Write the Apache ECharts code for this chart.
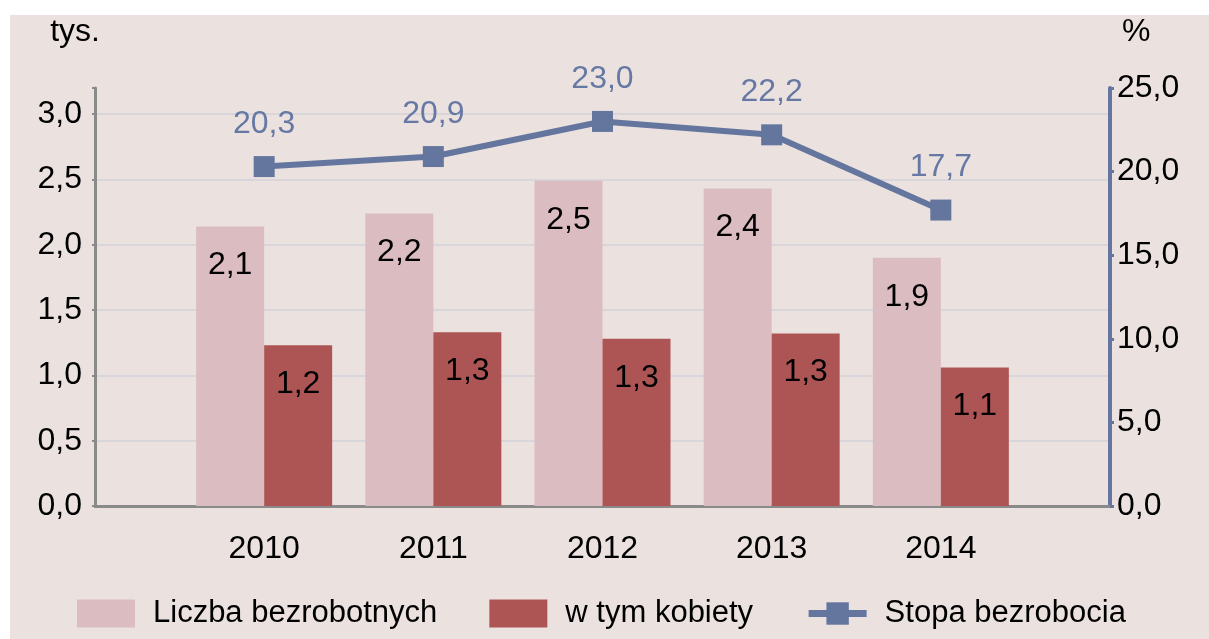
<!DOCTYPE html>
<html>
<head>
<meta charset="utf-8">
<script src="https://cdn.jsdelivr.net/npm/echarts@6/dist/echarts.min.js"></script>
<style>
  html, body { margin: 0; padding: 0; background: #ffffff; }
  #main { position: absolute; left: 10px; top: 15px; width: 1199px; height: 624px; background: #EBE2E0; }
</style>
</head>
<body>
<div id="main"></div>
<script>
// years, with empty slots at both ends so the groups sit on the ticks
var years = ['', '2010', '2011', '2012', '2013', '2014', ''];
var liczba = [null, 2.14, 2.24, 2.49, 2.43, 1.90, null];   // tys.
var kobiety = [null, 1.23, 1.33, 1.28, 1.32, 1.06, null];  // tys.
var stopa = [null, 20.3, 20.9, 23.0, 22.2, 17.7, null];    // %

var font = 'Liberation Sans, Arial, sans-serif';
var comma = function (v, d) { return v.toFixed(d).replace('.', ','); };

var chart = echarts.init(document.getElementById('main'));
var option = {
  animation: false,
  textStyle: { fontFamily: font },
  grid: { left: 85, right: 99, top: 73, bottom: 133 },
  legend: {
    bottom: 5,
    left: 62,
    itemWidth: 58,
    itemHeight: 28,
    itemGap: 52,
    textStyle: { fontSize: 31, color: '#000', fontFamily: font, padding: [0, 0, 0, 13] },
    data: [
      { name: 'Liczba bezrobotnych', icon: 'rect' },
      { name: 'w tym kobiety', icon: 'rect' },
      { name: 'Stopa bezrobocia', lineStyle: { width: 7 } }
    ]
  },
  xAxis: {
    type: 'category',
    data: years,
    boundaryGap: false,
    axisLine: { lineStyle: { color: '#8a8a8a', width: 3 } },
    axisTick: { show: false },
    axisLabel: { fontSize: 32, color: '#000', margin: 27 },
    splitLine: { show: false }
  },
  yAxis: [
    {
      type: 'value',
      min: 0,
      max: 3.2,
      interval: 0.5,
      name: 'tys.',
      nameLocation: 'end',
      nameGap: 40,
      nameTextStyle: { fontSize: 32, color: '#000', align: 'right', padding: [0, -5, 0, 0] },
      axisLine: { show: true, lineStyle: { color: '#8a8a8a', width: 3 } },
      axisTick: { show: true, length: 3, lineStyle: { color: '#8a8a8a', width: 2 } },
      axisLabel: {
        fontSize: 32, color: '#000', margin: 13,
        formatter: function (v) { return v > 3.05 ? '' : comma(v, 1); }
      },
      splitLine: {
        lineStyle: {
          width: 2,
          color: ['#D8D6DA', '#D8D6DA', '#D8D6DA', '#D8D6DA', '#D8D6DA', '#D8D6DA', '#D8D6DA', 'rgba(0,0,0,0)']
        }
      }
    },
    {
      type: 'value',
      min: 0,
      max: 25,
      interval: 5,
      position: 'right',
      name: '%',
      nameLocation: 'end',
      nameGap: 40,
      nameTextStyle: { fontSize: 32, color: '#000', align: 'left', padding: [0, 0, 0, 12] },
      axisLine: { show: true, lineStyle: { color: '#6476A0', width: 4 } },
      axisTick: { show: true, inside: false, length: 4, lineStyle: { color: '#6476A0', width: 3 } },
      axisLabel: {
        fontSize: 32, color: '#000', margin: 7,
        formatter: function (v) { return comma(v, 1); }
      },
      splitLine: { show: false }
    }
  ],
  series: [
    {
      name: 'Liczba bezrobotnych',
      type: 'bar',
      data: liczba,
      barWidth: 68,
      barGap: '0%',
      itemStyle: { color: '#DBBCC0' },
      label: {
        show: true, position: 'insideTop', distance: 23,
        fontSize: 32, color: '#000',
        formatter: function (p) { return comma(p.value, 1); }
      }
    },
    {
      name: 'w tym kobiety',
      type: 'bar',
      data: kobiety,
      barWidth: 68,
      barGap: '0%',
      itemStyle: { color: '#AD5555' },
      label: {
        show: true, position: 'insideTop', distance: 23,
        fontSize: 32, color: '#000',
        formatter: function (p) { return comma(p.value, 1); }
      }
    },
    {
      name: 'Stopa bezrobocia',
      type: 'line',
      yAxisIndex: 1,
      data: stopa,
      symbol: 'rect',
      symbolSize: 21,
      itemStyle: { color: '#64769E' },
      lineStyle: { color: '#64769E', width: 6 },
      label: {
        show: true, position: 'top', distance: 16,
        fontSize: 32, color: '#6678A3',
        formatter: function (p) { return comma(p.value, 1); }
      }
    }
  ]
};
chart.setOption(option);
</script>
</body>
</html>
